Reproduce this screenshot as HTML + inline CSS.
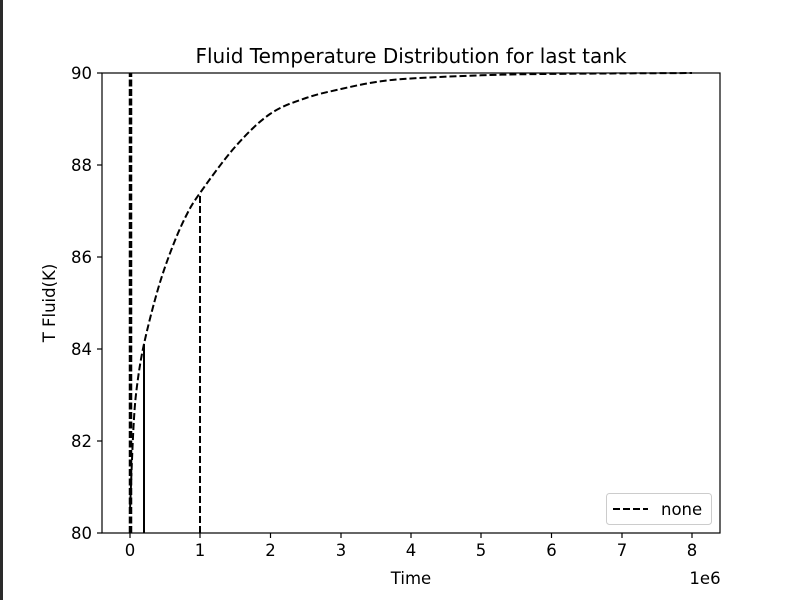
<!DOCTYPE html>
<html><head><meta charset="utf-8"><style>body{margin:0;background:#fff}svg{display:block;font-family:"DejaVu Sans","Liberation Sans",sans-serif}</style></head>
<body>
<svg width="800" height="600" viewBox="0 0 800 600">
<rect width="800" height="600" fill="#fff"/>
<rect x="0" y="0" width="3" height="600" fill="#2a2a2a"/>
<g stroke="#000" fill="none" stroke-width="2">
<line x1="130.5" y1="533" x2="130.5" y2="73" stroke-width="3.5" stroke-dasharray="7,2.5"/>
<line x1="144" y1="533" x2="144" y2="344"/>
<line x1="200" y1="533" x2="200" y2="193" stroke-dasharray="7,3"/>
<path id="curve" stroke-dasharray="7,3" d=""/>
</g>
<rect x="102" y="73" width="618" height="460" fill="none" stroke="#000" stroke-width="1.2"/>
<g stroke="#000" stroke-width="1.2">
<line x1="130" y1="533" x2="130" y2="538"/><line x1="200" y1="533" x2="200" y2="538"/><line x1="270.5" y1="533" x2="270.5" y2="538"/><line x1="341" y1="533" x2="341" y2="538"/><line x1="411" y1="533" x2="411" y2="538"/><line x1="481" y1="533" x2="481" y2="538"/><line x1="551.5" y1="533" x2="551.5" y2="538"/><line x1="622" y1="533" x2="622" y2="538"/><line x1="692" y1="533" x2="692" y2="538"/>
<line x1="97" y1="533" x2="102" y2="533"/><line x1="97" y1="441" x2="102" y2="441"/><line x1="97" y1="349" x2="102" y2="349"/><line x1="97" y1="257" x2="102" y2="257"/><line x1="97" y1="165" x2="102" y2="165"/><line x1="97" y1="73" x2="102" y2="73"/>
</g>
<g font-size="16.5" fill="#000" text-anchor="middle">
<text x="130" y="556">0</text><text x="200" y="556">1</text><text x="270.5" y="556">2</text><text x="341" y="556">3</text><text x="411" y="556">4</text><text x="481" y="556">5</text><text x="551.5" y="556">6</text><text x="622" y="556">7</text><text x="692" y="556">8</text>
<text x="705" y="584">1e6</text>
<text x="411" y="584">Time</text>
<text x="411" y="63" font-size="20">Fluid Temperature Distribution for last tank</text>
</g>
<g font-size="16.5" fill="#000" text-anchor="end">
<text x="92" y="539">80</text><text x="92" y="447">82</text><text x="92" y="355">84</text><text x="92" y="263">86</text><text x="92" y="171">88</text><text x="92" y="79">90</text>
</g>
<text transform="translate(55,303) rotate(-90)" font-size="16.5" text-anchor="middle">T Fluid(K)</text>
<rect x="606.5" y="493.5" width="105" height="31" rx="3" fill="#fff" stroke="#ccc"/>
<line x1="613" y1="509" x2="648" y2="509" stroke="#000" stroke-width="2" stroke-dasharray="7,3"/>
<text x="661" y="515" font-size="16.5">none</text>
</svg>
<script>
var p=[[130,510],[133.5,427],[137,386],[144,344],[158,289],[172,248],[186,216],[200,193],[235,147],[270,114],[306,98],[341,89],[376,82],[411,78.5],[481,75.3],[551,73.9],[692,73]];
var d="M"+p[0][0]+","+p[0][1];
for(var i=0;i<p.length-1;i++){var a=p[Math.max(i-1,0)],b=p[i],c=p[i+1],e=p[Math.min(i+2,p.length-1)];
d+=" C"+(b[0]+(c[0]-a[0])/6)+","+(b[1]+(c[1]-a[1])/6)+" "+(c[0]-(e[0]-b[0])/6)+","+(c[1]-(e[1]-b[1])/6)+" "+c[0]+","+c[1];}
document.getElementById("curve").setAttribute("d",d);
</script>
</body></html>
